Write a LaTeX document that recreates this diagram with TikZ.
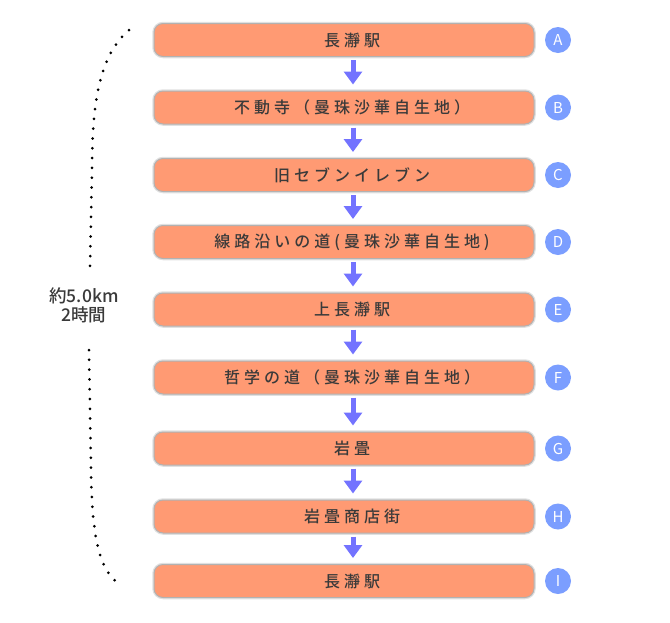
\documentclass[tikz,border=0pt]{standalone}
\usepackage{fontspec}
\usetikzlibrary{arrows.meta}
\newfontfamily\jp[LetterSpace=25,UprightFont=* Medium]{Noto Sans CJK JP}
\newfontfamily\jpside[UprightFont=* Medium]{Noto Sans CJK JP}
\newfontfamily\letterfont{Noto Sans CJK JP}
\definecolor{boxfill}{RGB}{255,154,115}
\definecolor{flowblue}{RGB}{115,115,255}
\definecolor{dotblue}{RGB}{123,158,255}
\definecolor{textgray}{RGB}{58,58,58}

\begin{document}
\begin{tikzpicture}[x=1pt,y=-1pt,
	stopbox/.style={draw=black!30, line width=1pt, fill=boxfill, rounded corners=9pt,
		minimum width=380pt, minimum height=33pt, inner sep=0pt,
		preaction={draw=black!12, line width=3.5pt}},
	stoptext/.style={text=textgray, font=\jp\fontsize{16}{18}\selectfont, inner sep=0pt},
	letterdot/.style={circle, fill=dotblue, minimum size=26pt, inner sep=0pt,
		text=white, font=\letterfont\fontsize{15}{16}\selectfont},
	flow/.style={draw=flowblue, line width=5pt, -{Triangle[width=18pt,length=13pt]},
		shorten <=3pt, shorten >=6pt},
	bracket/.style={line width=3pt, line cap=round, dash pattern=on 0pt off 9.8pt},
	sidetext/.style={text=textgray, font=\jpside\fontsize{17.5}{19}\selectfont, align=center, inner sep=0pt}]
		\useasboundingbox (0,0) rectangle (670,622);

		%draw stops
		\foreach \y/\name/\txt in {40/A/長瀞駅, 107.5/B/不動寺（曼珠沙華自生地）, 175/C/旧セブンイレブン,
			242/D/線路沿いの道(曼珠沙華自生地), 309.5/E/上長瀞駅, 377.5/F/哲学の道（曼珠沙華自生地）,
			448.5/G/岩畳, 516.5/H/岩畳商店街, 581/I/長瀞駅}
		{
			\node[stopbox] (\name) at (344,\y) {};
			\node[stoptext] (\name-t) at (352,\y) {\txt};
			\node[letterdot] (\name-m) at (558,\y) {\name};
		}

		%draw arrows
		\foreach \a/\b in {A/B,B/C,C/D,D/E,E/F,F/G,G/H,H/I}
		\draw[flow] ([xshift=9pt]\a.south) -- ([xshift=9pt]\b.north);

		%distance & time
		\node[sidetext] (total) at (84,305) {約5.0km\\2時間};
		\coordinate (brtop) at (129,30);
		\coordinate (brbot) at (118,583);
		\draw[bracket] (brtop) .. controls (100,55) and (92,100) .. (92,170) -- (90,270);
		\draw[bracket] (89,350) -- (91,470) .. controls (92,540) and (100,570) .. (brbot);
			\end{tikzpicture}
\end{document}
